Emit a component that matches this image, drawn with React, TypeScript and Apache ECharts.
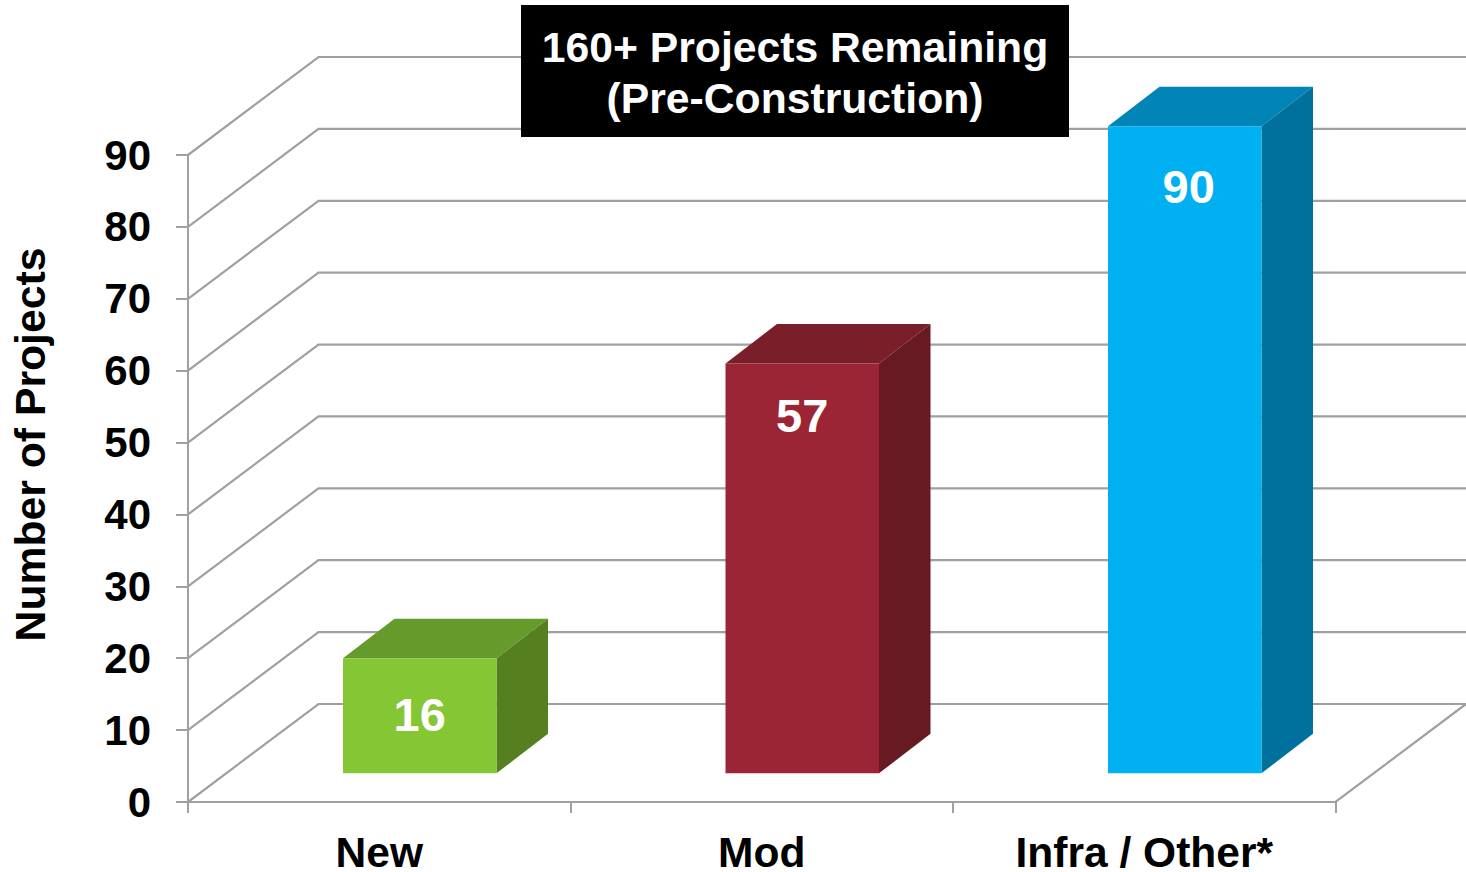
import React, { useEffect, useRef } from "react";
import * as echarts from "echarts";

const categories = ["New", "Mod", "Infra / Other*"];
const projectCounts = [16, 57, 90];
const yTicks = [0, 10, 20, 30, 40, 50, 60, 70, 80, 90];
const titleLines = ["160+ Projects Remaining", "(Pre-Construction)"];
const yAxisTitle = "Number of Projects";

const FONT = "'Liberation Sans', Arial, sans-serif";
const GRID_COLOR = "#A0A0A0";
const WALL_DX = 130.5;
const WALL_DY = 98;
const BAR_OFFSET_X = 40.5;
const BAR_OFFSET_Y = 28.7;
const BAR_DEPTH_X = 51.5;
const BAR_DEPTH_Y = 39.5;
const BAR_WIDTH = 153.5;
const barStyles = [
  { front: "#84C634", top: "#659B2B", side: "#56801F", labelDrop: 56.5, labelShift: 0 },
  { front: "#9B2535", top: "#7A1E29", side: "#671A22", labelDrop: 52, labelShift: 0 },
  { front: "#00B0F0", top: "#0085B6", side: "#00709C", labelDrop: 60.5, labelShift: 4 },
];

export default function App() {
  const ref = useRef<HTMLDivElement>(null);
  useEffect(() => {
    const chart = echarts.init(ref.current!, undefined, { renderer: "svg" });
    chart.setOption({
      animation: false,
      backgroundColor: "#FFFFFF",
      grid: { left: 188, right: 130.5, top: 155, bottom: 70, outerBoundsMode: "none", containLabel: false },
      xAxis: {
        type: "category",
        data: categories,
        axisLine: { show: false },
        axisTick: { show: true, alignWithLabel: false, length: 11, lineStyle: { color: GRID_COLOR, width: 2 } },
        axisLabel: { color: "#000", fontFamily: FONT, fontWeight: "bold", fontSize: 42.5, lineHeight: 38, margin: 31 },
      },
      yAxis: {
        type: "value",
        min: 0,
        max: 90,
        interval: 10,
        name: yAxisTitle,
        nameLocation: "middle",
        nameRotate: 90,
        nameGap: 137,
        nameTextStyle: { color: "#000", fontFamily: FONT, fontWeight: "bold", fontSize: 42.7, padding: [0, 0, 0, 68] },
        splitLine: { show: false },
        axisLine: { show: true, lineStyle: { color: GRID_COLOR, width: 2 } },
        axisTick: { show: true, length: 12, lineStyle: { color: GRID_COLOR, width: 2 } },
        axisLabel: { color: "#000", fontFamily: FONT, fontWeight: "bold", fontSize: 42, margin: 37, padding: [3, 0, 0, 0] },
      },
      series: [
        {
          type: "custom",
          name: "Walls",
          silent: true,
          z: 1,
          clip: false,
          data: yTicks.map((t) => [0, t]),
          encode: { x: 0, y: 1 },
          renderItem: (params: any, api: any) => {
            const y = api.coord([0, api.value(1)])[1];
            const left = params.coordSys.x;
            const right = left + params.coordSys.width;
            const points = [
              [left, y],
              [left + WALL_DX, y - WALL_DY],
              [right + WALL_DX, y - WALL_DY],
            ];
            if (api.value(1) === 0) {
              points.push([right, y], [left, y]);
            }
            return {
              type: "polyline",
              shape: { points },
              style: { stroke: GRID_COLOR, lineWidth: 2.2, fill: "none" },
            };
          },
        },
        {
          type: "custom",
          name: "Projects",
          silent: true,
          z: 2,
          clip: false,
          data: projectCounts.map((v, i) => [i, v]),
          encode: { x: 0, y: 1 },
          renderItem: (_params: any, api: any) => {
            const i = api.value(0);
            const v = api.value(1);
            const s = barStyles[i];
            const base = api.coord([i, 0]);
            const top = api.coord([i, v]);
            const dx = BAR_DEPTH_X;
            const dy = BAR_DEPTH_Y;
            const x0 = base[0] + BAR_OFFSET_X - BAR_WIDTH / 2;
            const x1 = x0 + BAR_WIDTH;
            const yb = base[1] - BAR_OFFSET_Y;
            const yt = top[1] - BAR_OFFSET_Y;
            return {
              type: "group",
              children: [
                {
                  type: "polygon",
                  shape: { points: [[x0, yt], [x0 + dx, yt - dy], [x1 + dx, yt - dy], [x1, yt]] },
                  style: { fill: s.top },
                },
                {
                  type: "polygon",
                  shape: { points: [[x1, yt], [x1 + dx, yt - dy], [x1 + dx, yb - dy], [x1, yb]] },
                  style: { fill: s.side },
                },
                {
                  type: "polygon",
                  shape: { points: [[x0, yt], [x1, yt], [x1, yb], [x0, yb]] },
                  style: { fill: s.front },
                },
                {
                  type: "text",
                  style: {
                    text: String(v),
                    x: (x0 + x1) / 2 + s.labelShift,
                    y: yt + s.labelDrop,
                    align: "center",
                    verticalAlign: "middle",
                    fill: "#FFFFFF",
                    font: `bold 47px ${FONT}`,
                  },
                },
              ],
            };
          },
        },
      ],
      graphic: [
        { type: "rect", z: 100, shape: { x: 521, y: 5, width: 548, height: 132 }, style: { fill: "#000" } },
        {
          type: "text",
          z: 101,
          style: {
            text: titleLines[0],
            x: 795,
            y: 47,
            align: "center",
            verticalAlign: "middle",
            fill: "#FFF",
            font: `bold 42.7px ${FONT}`,
          },
        },
        {
          type: "text",
          z: 101,
          style: {
            text: titleLines[1],
            x: 795,
            y: 98,
            align: "center",
            verticalAlign: "middle",
            fill: "#FFF",
            font: `bold 42.7px ${FONT}`,
          },
        },
      ],
    });
    return () => chart.dispose();
  }, []);
  return <div ref={ref} style={{ position: "absolute", left: 0, top: 0, width: 1466, height: 872 }} />;
}
